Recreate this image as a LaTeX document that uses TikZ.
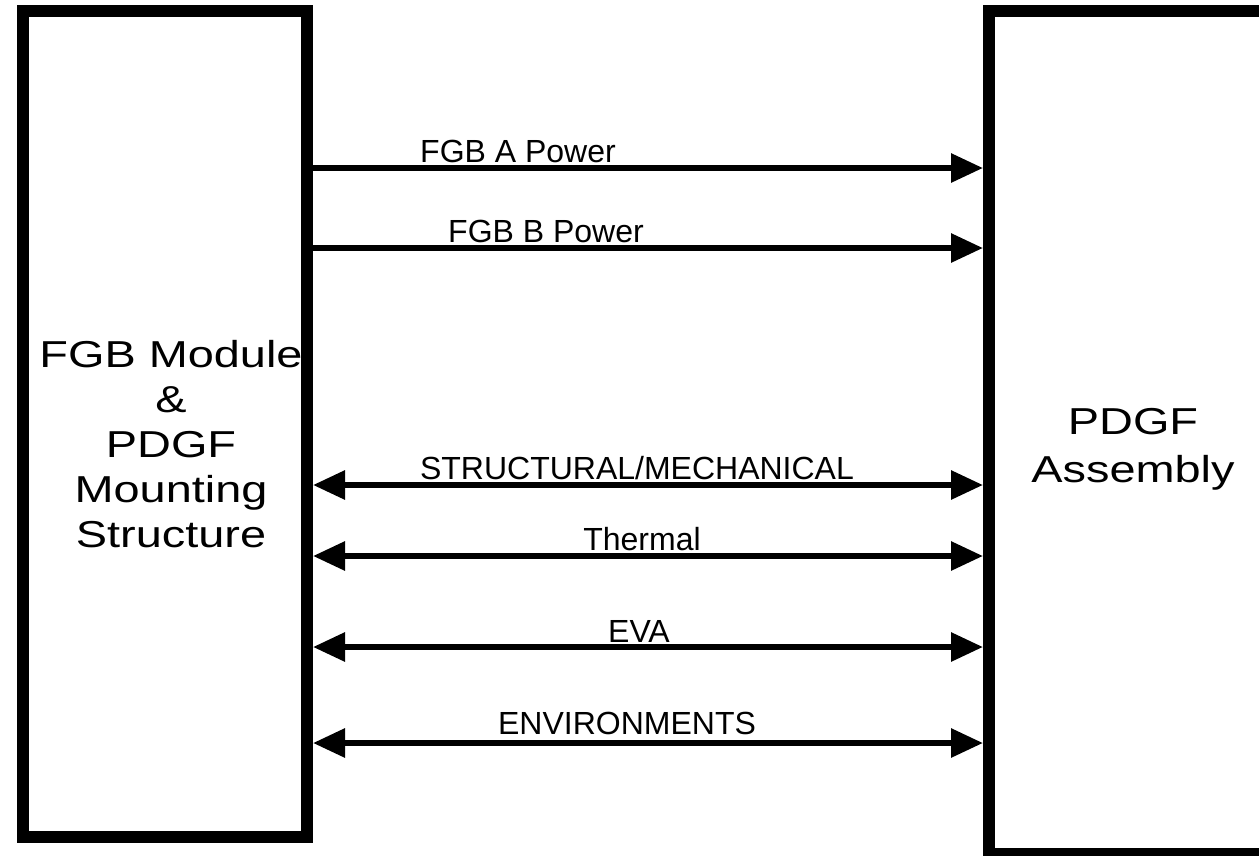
\documentclass[tikz,border=0pt]{standalone}
\usepackage{fontspec}
\setmainfont{Liberation Sans}
\newfontfamily\blockfont[FakeStretch=1.25]{Liberation Sans}
\usetikzlibrary{arrows.meta}
\begin{document}
\begin{tikzpicture}[x=1pt,y=-1pt,
  block/.style={draw=black, line width=12pt, outer sep=6pt, inner sep=0pt, rectangle},
  blocktext/.style={align=center, inner sep=0pt, font=\blockfont\fontsize{37.5}{45}\selectfont},
  flow/.style={line width=6pt, -{Triangle[length=32pt,width=28pt]}},
  twoway/.style={line width=6pt, {Triangle[length=32pt,width=28pt]}-{Triangle[length=32pt,width=28pt]}},
  lbl/.style={anchor=base, inner sep=0pt, font=\fontsize{32}{38}\selectfont}]
\useasboundingbox (0,0) rectangle (1259,855);

% the two blocks
\node[block, minimum width=284pt, minimum height=826pt] (lbox) at (165,424) {};
\node[block, minimum width=300pt, minimum height=843pt] (rbox) at (1139,432.5) {};

\node[blocktext] (ltxt) at (171,444) {FGB Module\\\&\\PDGF\\Mounting\\Structure};
\node[blocktext, font=\blockfont\fontsize{37.5}{48}\selectfont] (rtxt) at (1133,449) {PDGF\\Assembly};

% interfaces
\draw[flow]   ([yshift=-163pt]lbox.north east) -- ([yshift=-163pt]rbox.north west);
\draw[flow]   ([yshift=-243pt]lbox.north east) -- ([yshift=-243pt]rbox.north west);
\draw[twoway] ([yshift=-480pt]lbox.north east) -- ([yshift=-480pt]rbox.north west);
\draw[twoway] ([yshift=-551pt]lbox.north east) -- ([yshift=-551pt]rbox.north west);
\draw[twoway] ([yshift=-642pt]lbox.north east) -- ([yshift=-642pt]rbox.north west);
\draw[twoway] ([yshift=-738pt]lbox.north east) -- ([yshift=-738pt]rbox.north west);

\node[lbl] (tA)   at (518,162) {FGB A Power};
\node[lbl] (tB)   at (546,242) {FGB B Power};
\node[lbl] (tSM)  at (637,479) {STRUCTURAL/MECHANICAL};
\node[lbl] (tTh)  at (642,550) {Thermal};
\node[lbl] (tEVA) at (639,642) {EVA};
\node[lbl] (tEnv) at (627,734) {ENVIRONMENTS};
\end{tikzpicture}
\end{document}
